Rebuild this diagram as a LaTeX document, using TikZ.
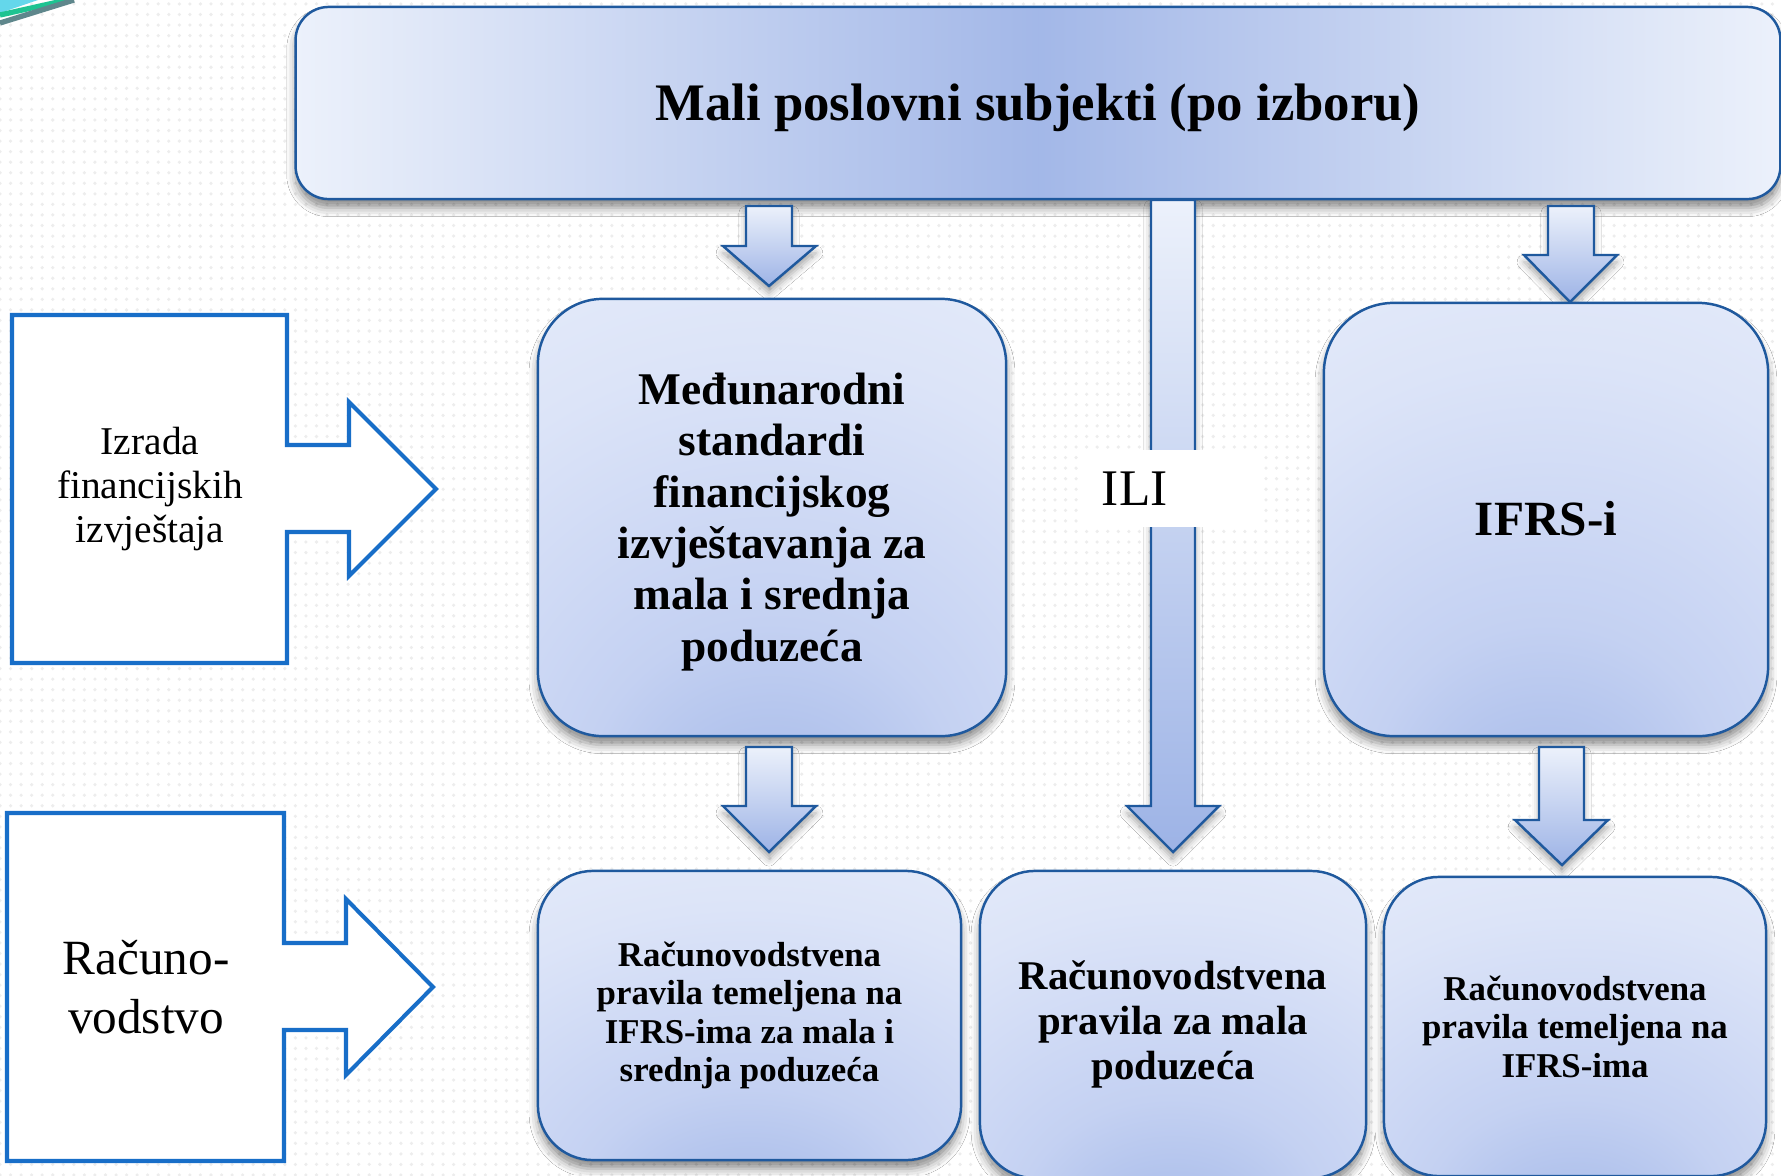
\documentclass[tikz,border=0pt]{standalone}
\usepackage{fontspec}
\setmainfont{Liberation Serif}
\usetikzlibrary{shadows.blur,patterns}

\definecolor{boxline}{RGB}{31,89,158}
\definecolor{shlight}{RGB}{236,241,251}
\definecolor{shpale}{RGB}{220,228,248}
\definecolor{shmid}{RGB}{196,209,242}
\definecolor{shdark}{RGB}{157,179,230}
\definecolor{sideline}{RGB}{24,110,200}
\definecolor{swcyan}{RGB}{100,215,235}
\definecolor{swgreen}{RGB}{30,195,145}
\definecolor{swgray}{RGB}{95,135,140}

\pgfdeclareradialshading{boxshade}{\pgfpoint{0bp}{-40bp}}{color(0bp)=(shdark); color(20bp)=(shmid); color(42bp)=(shpale); color(65bp)=(shlight); color(100bp)=(shlight)}

\tikzset{
  mainbox/.style={draw=boxline, line width=0.7pt, shading=boxshade, align=center, inner sep=0pt,
    blur shadow={shadow xshift=0pt, shadow yshift=-2.5pt, shadow blur radius=2.5pt, shadow opacity=45}},
  blockarrow/.style={draw=boxline, line width=0.7pt, top color=shlight, bottom color=shdark,
    blur shadow={shadow xshift=0pt, shadow yshift=-2pt, shadow blur radius=2pt, shadow opacity=35}},
  sidebox/.style={draw=sideline, line width=1.15pt, fill=white},
  sidetext/.style={align=center, inner sep=0pt}
}

\begin{document}
\begin{tikzpicture}[x=0.01cm, y=-0.01cm]

\clip (0,0) rectangle (1781,1175);

\fill[white] (0,0) rectangle (1781,1175);

\fill[pattern=dots, pattern color=black!7] (0,0) rectangle (1781,1175);

% corner of the slide
\fill[swcyan] (0,0) -- (38,0) -- (0,13) -- cycle;

\draw[swgreen, line width=1.5] (0,15) -- (67,0);

\draw[swgray, line width=1.5] (0,23) -- (74,0);

% top box and the ILI arrow
\node[mainbox, shading=axis, left color=shlight, right color=shlight, middle color=shdark!85!shmid,
  minimum width=14.84cm, minimum height=1.92cm, rounded corners=0.33cm,
  font=\bfseries\fontsize{15pt}{17pt}\selectfont, text height=9.9pt, text depth=0pt]
  (top) at (1038,103) {Mali poslovni subjekti (po izboru)};

\draw[blockarrow] (1151,200) -- (1195,200) -- (1195,806) -- (1219,806) -- (1173,852) -- (1127,806) -- (1151,806) -- cycle;

\node[fill=white, inner sep=0pt, inner xsep=0.2cm, text width=1.42cm, minimum height=0.77cm,
  align=left, font=\fontsize{14.6pt}{16pt}\selectfont] (ili) at (1173,488.5) {ILI};

% arrows under the top box
\draw[blockarrow] (746,206) -- (792,206) -- (792,246) -- (816,246) -- (769,286) -- (723,246) -- (746,246) -- cycle;

\draw[blockarrow] (1548,206) -- (1594,206) -- (1594,255) -- (1617,255) -- (1570,302) -- (1524,255) -- (1548,255) -- cycle;

% middle row
\node[mainbox, minimum width=4.68cm, minimum height=4.37cm, rounded corners=0.65cm] (msfi) at (772,517.5) {};

\node[sidetext, font=\bfseries\fontsize{12.9pt}{14.6pt}\selectfont]
  (msfitext) at (772,522) {Međunarodni\\standardi\\financijskog\\izvještavanja za\\mala i srednja\\poduzeća};

\node[mainbox, minimum width=4.44cm, minimum height=4.33cm, rounded corners=0.7cm,
  font=\bfseries\fontsize{14pt}{16pt}\selectfont, text height=9.3pt, text depth=0pt]
  (ifrs) at (1546,519.5) {IFRS-i};

\draw[blockarrow] (746,747) -- (792,747) -- (792,806) -- (816,806) -- (769,852) -- (723,806) -- (746,806) -- cycle;

\draw[blockarrow] (1539,747) -- (1584,747) -- (1584,820) -- (1608,820) -- (1562,865) -- (1515,820) -- (1539,820) -- cycle;

% bottom row
\node[mainbox, minimum width=4.23cm, minimum height=2.89cm, rounded corners=0.55cm,
  font=\bfseries\fontsize{9.9pt}{10.95pt}\selectfont]
  (pravmsp) at (749.5,1015.5) {Računovodstvena\\pravila temeljena na\\IFRS-ima za mala i\\srednja poduzeća};

\node[mainbox, minimum width=3.86cm, minimum height=3.07cm, rounded corners=0.55cm,
  font=\bfseries\fontsize{11.6pt}{12.8pt}\selectfont]
  (pravmala) at (1173,1024.5) {Računovodstvena\\pravila za mala\\poduzeća};

\node[mainbox, minimum width=3.82cm, minimum height=2.99cm, rounded corners=0.55cm,
  font=\bfseries\fontsize{9.9pt}{10.95pt}\selectfont]
  (pravifrs) at (1575,1026.5) {Računovodstvena\\pravila temeljena na\\IFRS-ima};

% side arrows
\draw[sidebox] (12,315) -- (287,315) -- (287,445) -- (349,445) -- (349,402) -- (436,489) -- (349,576) -- (349,532) -- (287,532) -- (287,663) -- (12,663) -- cycle;

\node[sidetext, font=\fontsize{11.2pt}{12.5pt}\selectfont] (izrada) at (150,489) {Izrada\\financijskih\\izvještaja};

\draw[sidebox] (7,813) -- (284,813) -- (284,943) -- (346,943) -- (346,899) -- (433,987) -- (346,1075) -- (346,1030) -- (284,1030) -- (284,1161) -- (7,1161) -- cycle;

\node[sidetext, font=\fontsize{14pt}{16.8pt}\selectfont] (racun) at (146,987) {Računo-\\vodstvo};

\end{tikzpicture}
\end{document}
